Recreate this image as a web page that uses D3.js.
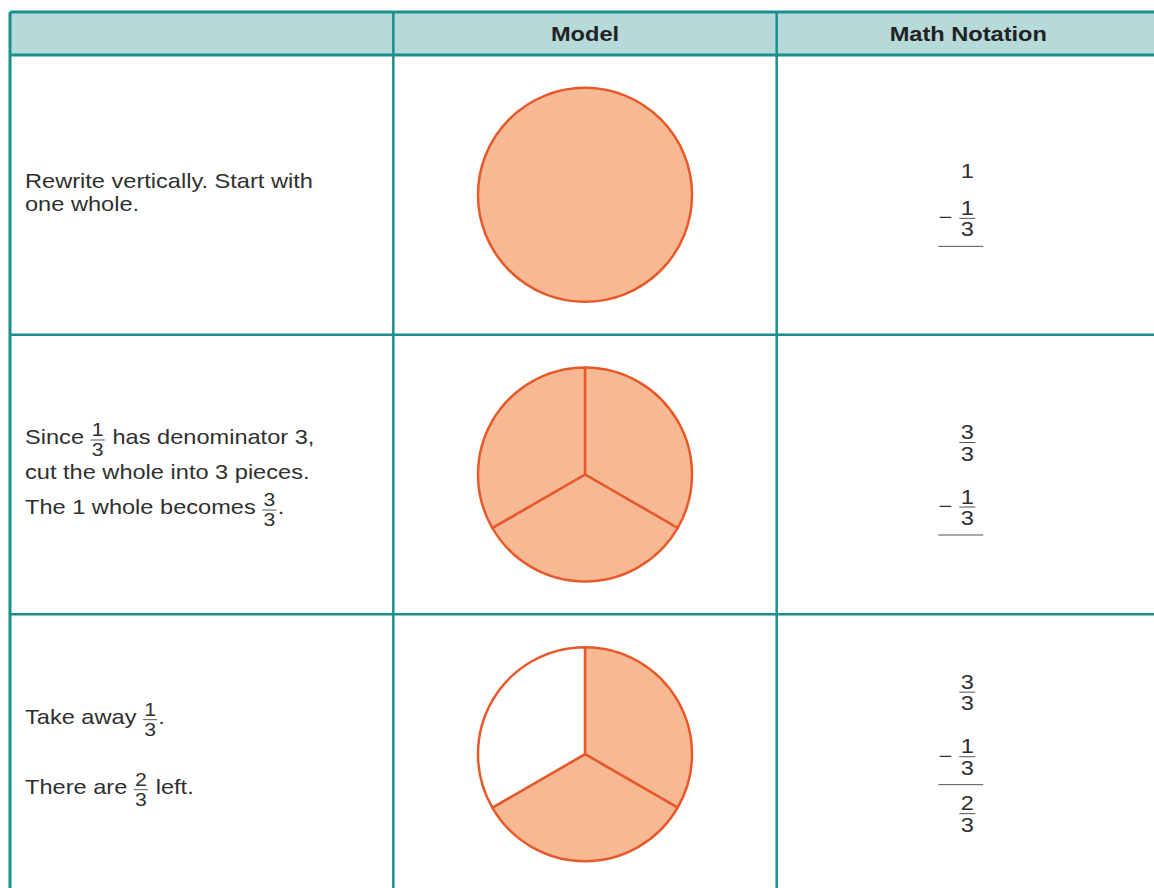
<!DOCTYPE html>
<html>
<head>
<meta charset="utf-8">
<script src="https://cdn.jsdelivr.net/npm/d3@7"></script>
<style>
  html, body { margin: 0; padding: 0; background: #fff; }
  svg { display: block; }
  text { font-family: "Liberation Sans", Arial, sans-serif; }
</style>
</head>
<body>
<svg id="chart" width="1154" height="888"></svg>
<script>
// ---------- data ----------
const columns = ["", "Model", "Math Notation"];
const stepIds = ["whole", "cut", "takeAway"];
const descriptions = [
  [["Rewrite vertically. Start with"], ["one whole."]],
  [["Since ", {n: "1", d: "3"}, " has denominator 3,"],
   ["cut the whole into 3 pieces."],
   ["The 1 whole becomes ", {n: "3", d: "3"}, "."]],
  [["Take away ", {n: "1", d: "3"}, "."],
   ["There are ", {n: "2", d: "3"}, " left."]]
];
// 1 = shaded piece, 0 = piece taken away (clockwise from 12 o'clock)
const pieSlices = [[1], [1, 1, 1], [1, 1, 0]];
const mathNotation = [
  [{type: "num", v: "1"}, {type: "frac", op: "−", n: "1", d: "3"}, {type: "rule"}],
  [{type: "frac", n: "3", d: "3"}, {type: "frac", op: "−", n: "1", d: "3"}, {type: "rule"}],
  [{type: "frac", n: "3", d: "3"}, {type: "frac", op: "−", n: "1", d: "3"}, {type: "rule"}, {type: "frac", n: "2", d: "3"}]
];

// ---------- layout / style ----------
const W = 1154, H = 888;
const teal = "#1b8f8c", headFill = "#b6d9da";
const pieFill = "#f6b994", pieStroke = "#e8592a";
const textCol = "#303030";
const SX = 1.18;           // horizontal stretch of the type in the reference
const FS = 20, FFS = 18;   // body and inline-fraction font sizes
const descGap = [22.5, 35, 70];
const mathNudge = [10.5, 4.75, -1.25];

const svg = d3.select("#chart");
const x = d3.scaleBand().domain(d3.range(columns.length)).range([10, 1160]);
const headTop = 12, headBottom = 55;
const y = d3.scaleBand().domain(stepIds).range([headBottom, 894]);

// header background
svg.append("rect").attr("x", x(0)).attr("y", headTop)
  .attr("width", W - x(0)).attr("height", headBottom - headTop)
  .attr("fill", headFill);

// header labels
svg.selectAll("text.head").data(columns).join("text")
  .attr("class", "head")
  .attr("transform", (d, i) => `translate(${x(i) + x.bandwidth() / 2},41) scale(${SX},1)`)
  .attr("text-anchor", "middle")
  .attr("font-size", 20).attr("font-weight", "bold").attr("fill", "#222")
  .text(d => d);

// ---------- model pies ----------
const pie = d3.pie().sort(null).value(1);
const arc = d3.arc().innerRadius(0).outerRadius(107);
stepIds.forEach((id, r) => {
  const cx = x(1) + x.bandwidth() / 2, cy = y(id) + y.bandwidth() / 2;
  const g = svg.append("g").attr("transform", `translate(${cx},${cy})`);
  g.selectAll("path").data(pie(pieSlices[r])).join("path")
    .attr("d", arc)
    .attr("fill", d => d.data ? pieFill : "#fff")
    .attr("stroke", pieStroke).attr("stroke-width", 2.5)
    .attr("stroke-linejoin", "round");
});

// ---------- description text ----------
function fracInline(g, xPos, base, f) {
  const fg = g.append("g");
  const tn = fg.append("text").attr("font-size", FFS).attr("fill", textCol).text(f.n);
  const td = fg.append("text").attr("font-size", FFS).attr("fill", textCol).text(f.d);
  const w = Math.max(tn.node().getComputedTextLength(), td.node().getComputedTextLength()) + 2;
  const bar = base - 4;
  tn.attr("x", xPos + w / 2).attr("y", bar - 3.5).attr("text-anchor", "middle");
  td.attr("x", xPos + w / 2).attr("y", bar + 3.5 + 13).attr("text-anchor", "middle");
  fg.append("line").attr("x1", xPos).attr("x2", xPos + w)
    .attr("y1", bar).attr("y2", bar).attr("stroke", "#555").attr("stroke-width", 1);
  return w + 1;
}

stepIds.forEach((id, r) => {
  const cy = y(id) + y.bandwidth() / 2;
  const lines = descriptions[r];
  const gap = descGap[r];
  const first = cy - gap * (lines.length - 1) / 2 + 4.5;
  const g = svg.append("g").attr("transform", `translate(25,0) scale(${SX},1)`);
  const para = g.append("text").attr("font-size", FS).attr("fill", textCol)
    .attr("xml:space", "preserve").style("white-space", "pre");
  lines.forEach((segs, li) => {
    const base = first + li * gap;
    let cur = 0;
    segs.forEach(s => {
      if (typeof s === "string") {
        const t = para.append("tspan").attr("x", cur).attr("y", base).text(s);
        cur += t.node().getComputedTextLength();
      } else {
        cur += fracInline(g, cur, base, s);
      }
    });
  });
});

// ---------- math notation ----------
stepIds.forEach((id, r) => {
  const items = mathNotation[r];
  const cy = y(id) + y.bandwidth() / 2;
  const cx = x(2) + x.bandwidth() / 2 - 1;
  const pos = [];
  let cur = 0, prev = null;
  items.forEach((it, i) => {
    if (i > 0) {
      if (it.type === "rule") cur += 28;
      else if (prev.type === "rule") cur += 29;
      else if (prev.type === "num") cur += 40;
      else cur += 64.5;
    }
    pos.push(cur);
    prev = it;
  });
  const top = items[0].type === "num" ? -14 : -19;
  const last = items[items.length - 1];
  const bottom = pos[pos.length - 1] + (last.type === "frac" ? 19 : 0);
  const off = cy - (top + bottom) / 2 + mathNudge[r];
  const g = svg.append("g");
  items.forEach((it, i) => {
    const yy = off + pos[i];
    if (it.type === "num") {
      g.append("text").attr("transform", `translate(${cx},${yy}) scale(${SX},1)`)
        .attr("text-anchor", "middle").attr("font-size", FS).attr("fill", textCol).text(it.v);
    } else if (it.type === "frac") {
      g.append("text").attr("transform", `translate(${cx},${yy - 3.5}) scale(${SX},1)`)
        .attr("text-anchor", "middle").attr("font-size", FS).attr("fill", textCol).text(it.n);
      g.append("text").attr("transform", `translate(${cx},${yy + 3.5 + 14.5}) scale(${SX},1)`)
        .attr("text-anchor", "middle").attr("font-size", FS).attr("fill", textCol).text(it.d);
      g.append("line").attr("x1", cx - 8).attr("x2", cx + 8)
        .attr("y1", yy).attr("y2", yy).attr("stroke", "#555").attr("stroke-width", 1);
      if (it.op) {
        g.append("text").attr("transform", `translate(${cx - 22},${yy + 6}) scale(${SX},1)`)
          .attr("text-anchor", "middle").attr("font-size", FS).attr("fill", textCol).text(it.op);
      }
    } else if (it.type === "rule") {
      g.append("line").attr("x1", cx - 29).attr("x2", cx + 16)
        .attr("y1", yy).attr("y2", yy).attr("stroke", "#555").attr("stroke-width", 1);
    }
  });
});

// ---------- grid lines ----------
const grid = svg.append("g").attr("stroke", teal).attr("stroke-width", 2.5);
grid.append("line").attr("x1", x(0)).attr("x2", W).attr("y1", headTop).attr("y2", headTop).attr("stroke-width", 3);
grid.append("line").attr("x1", x(0)).attr("x2", W).attr("y1", headBottom).attr("y2", headBottom).attr("stroke-width", 3);
grid.selectAll("line.row").data(stepIds.slice(1)).join("line").attr("class", "row")
  .attr("x1", x(0)).attr("x2", W).attr("y1", d => y(d)).attr("y2", d => y(d));
grid.selectAll("line.col").data(d3.range(columns.length)).join("line").attr("class", "col")
  .attr("x1", d => x(d)).attr("x2", d => x(d)).attr("y1", headTop).attr("y2", H)
  .attr("stroke-width", d => d === 0 ? 3 : 2.5);
</script>
</body>
</html>
